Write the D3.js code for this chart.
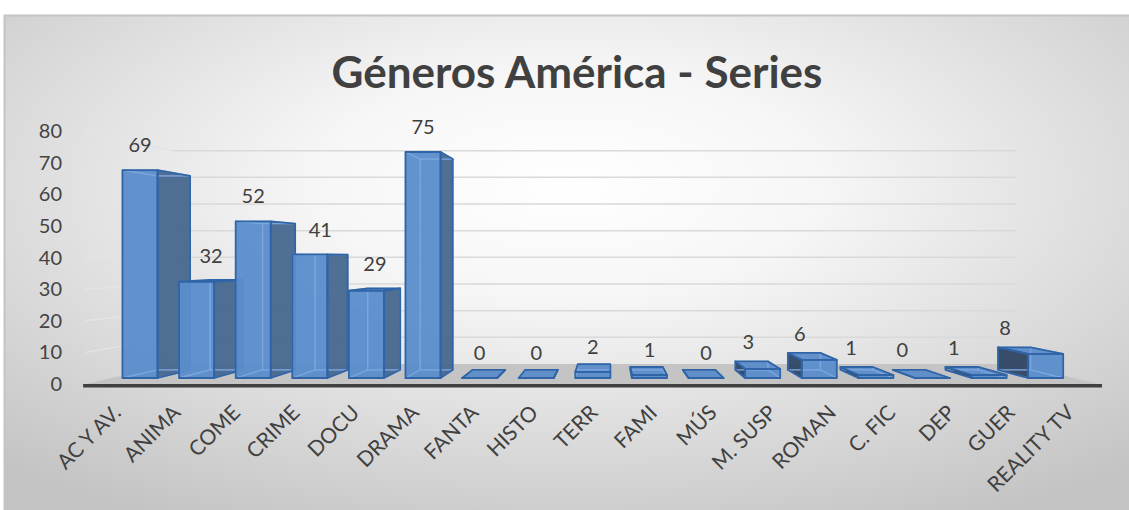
<!DOCTYPE html>
<html>
<head>
<meta charset="utf-8">
<script src="https://cdn.jsdelivr.net/npm/d3@7"></script>
<style>
	html, body { margin: 0; padding: 0; background: #fff; }
	svg { display: block; font-family: Lato, 'Open Sans', sans-serif; }
</style>
</head>
<body>
<svg id="chart"></svg>
<script>
var title = 'Géneros América - Series';
var categories = ['AC Y AV.', 'ANIMA', 'COME', 'CRIME', 'DOCU', 'DRAMA', 'FANTA', 'HISTO', 'TERR', 'FAMI', 'MÚS', 'M. SUSP', 'ROMAN', 'C. FIC', 'DEP', 'GUER', 'REALITY TV'];
var values = [69, 32, 52, 41, 29, 75, 0, 0, 2, 1, 0, 3, 6, 1, 0, 1, 8];
var yTicks = [0, 10, 20, 30, 40, 50, 60, 70, 80];

var width = 1129;
var height = 510;

var svg = d3.select('#chart').attr('width', width).attr('height', height);

// Background (Excel radial fill)
var defs = svg.append('defs');
var grad = defs
	.append('radialGradient')
	.attr('id', 'bg')
	.attr('cx', 0.5)
	.attr('cy', 0.33)
	.attr('r', 0.75);
grad.append('stop').attr('offset', 0).attr('stop-color', '#ffffff');
grad.append('stop').attr('offset', 0.3).attr('stop-color', '#f6f6f6');
grad.append('stop').attr('offset', 1).attr('stop-color', '#c3c3c3');

svg
	.append('rect')
	.attr('x', 4.5)
	.attr('y', 15.5)
	.attr('width', width)
	.attr('height', height)
	.attr('fill', 'url(#bg)')
	.attr('stroke', '#c4c4c4')
	.attr('stroke-width', 2);

// Scales: band in category units, then a front plane and a back plane
var n = categories.length;
var band = d3
	.scaleBand()
	.domain(categories)
	.range([0, n])
	.paddingInner(0.38)
	.paddingOuter(0.19);

var xFront = d3.scaleLinear().domain([0, n]).range([85.5, 1098.4]);
var xBack = d3.scaleLinear().domain([0, n]).range([172.9, 1016.9]);
var yFront = d3.scaleLinear().domain([0, 80]).range([384, 131]);
var yBack = d3.scaleLinear().domain([0, 80]).range([364, 150.7]);

function proj(u, d, v) {
	return [xFront(u) * (1 - d) + xBack(u) * d, yFront(v) * (1 - d) + yBack(v) * d];
}
function pts(arr) {
	return arr.map(p => p.join(',')).join(' ');
}

// Walls
var walls = svg.append('g');
yTicks.filter(t => t > 0).forEach(t => {
	walls
		.append('line')
		.attr('x1', proj(0, 0, t)[0])
		.attr('y1', proj(0, 0, t)[1])
		.attr('x2', proj(0, 1, t)[0])
		.attr('y2', proj(0, 1, t)[1])
		.attr('stroke', '#e4e4e4')
		.attr('stroke-width', 1.5);
	walls
		.append('line')
		.attr('x1', proj(0, 1, t)[0])
		.attr('y1', proj(0, 1, t)[1])
		.attr('x2', proj(n, 1, t)[0])
		.attr('y2', proj(n, 1, t)[1])
		.attr('stroke', '#d9d9d9')
		.attr('stroke-width', 1.5);
});

// Floor
svg
	.append('polygon')
	.attr('points', pts([proj(0, 0, 0), proj(n, 0, 0), proj(n, 1, 0), proj(0, 1, 0)]))
	.attr('fill', '#c4c4c4');
svg
	.append('polygon')
	.attr('points', pts([proj(-0.04, 0, 0), proj(n + 0.06, 0, 0), [proj(n + 0.06, 0, 0)[0], yFront(0) + 3.5], [proj(-0.04, 0, 0)[0], yFront(0) + 3.5]]))
	.attr('fill', '#404040');

// Y axis labels
svg
	.append('g')
	.selectAll('text')
	.data(yTicks)
	.enter()
	.append('text')
	.attr('x', 62)
	.attr('y', d => yFront(d))
	.attr('dy', '0.35em')
	.attr('text-anchor', 'end')
	.attr('font-size', 20)
	.attr('fill', '#444')
	.text(d => d);

// Bars
var d0 = 0.3;
var d1 = 0.71;
var uVP = (xBack(0) - xFront(0)) / ((xFront(n) - xFront(0)) / n - (xBack(n) - xBack(0)) / n);

var bars = categories.map((c, i) => {
	var uL = band(c);
	var uR = uL + band.bandwidth();
	var v = values[i];
	var P = (u, d, h) => proj(u, d, h);
	var faces = {
		front: [P(uL, d0, 0), P(uR, d0, 0), P(uR, d0, v), P(uL, d0, v)],
		back: [P(uL, d1, 0), P(uR, d1, 0), P(uR, d1, v), P(uL, d1, v)],
		left: [P(uL, d0, 0), P(uL, d1, 0), P(uL, d1, v), P(uL, d0, v)],
		right: [P(uR, d0, 0), P(uR, d1, 0), P(uR, d1, v), P(uR, d0, v)],
		top: [P(uL, d0, v), P(uR, d0, v), P(uR, d1, v), P(uL, d1, v)],
		bottom: [P(uL, d0, 0), P(uR, d0, 0), P(uR, d1, 0), P(uL, d1, 0)]
	};
	var vis = {
		front: true,
		back: false,
		right: P(uR, d1, 0)[0] > P(uR, d0, 0)[0],
		left: P(uL, d1, 0)[0] < P(uL, d0, 0)[0],
		top: P(uL, d1, v)[1] < P(uL, d0, v)[1],
		bottom: P(uL, d1, 0)[1] > P(uL, d0, 0)[1]
	};
	var leftWidth = P(uL, d0, 0)[0] - P(uL, d1, 0)[0];
	return { c: c, v: v, i: i, uL: uL, uR: uR, faces: faces, vis: vis, leftWidth: leftWidth };
});

var fills = { front: '#5b8dcb', right: '#46678f', left: '#2f4663', top: '#5c8cc9', bottom: '#5c8cc9', back: '#5c8cc9' };

var order = bars.slice().sort((a, b) => Math.abs(b.uL + 0.31 - uVP) - Math.abs(a.uL + 0.31 - uVP));
var gBars = svg.append('g');
order.forEach(b => {
	var g = gBars.append('g');
	var names = Object.keys(b.faces);
	// visible faces fill
	names.filter(k => b.vis[k]).forEach(k => {
		g.append('polygon')
			.attr('points', pts(b.faces[k]))
			.attr('fill', fills[k])
			.attr('fill-opacity', 0.95);
	});
	// hidden edges seen through the glass
	names.filter(k => !b.vis[k]).forEach(k => {
		g.append('polygon')
			.attr('points', pts(b.faces[k]))
			.attr('fill', 'none')
			.attr('stroke', '#7ea8df')
			.attr('stroke-opacity', 0.7)
			.attr('stroke-width', 1.3);
	});
	// visible outlines
	names.filter(k => b.vis[k]).forEach(k => {
		g.append('polygon')
			.attr('points', pts(b.faces[k]))
			.attr('fill', 'none')
			.attr('stroke', '#2f64a6')
			.attr('stroke-width', 1.8)
			.attr('stroke-linejoin', 'round');
	});
});

// Data labels: front of the top, pushed back when it would hit the previous bar
function labelPos(b) {
	var mid = (b.uL + b.uR) / 2;
	var d = d0;
	var off = 25;
	if (b.vis.left && b.leftWidth > 8) {
		d = 0.83;
		off = 17;
	} else if (b.i > 0 && b.vis.right) {
		var prev = bars[b.i - 1];
		var p = proj(mid, d0, b.v);
		var prevEdge = proj(prev.uR, d1, prev.v);
		if (prevEdge[1] < p[1] - off && p[0] - 12 < prevEdge[0] + 8) d = 0.5;
	}
	var q = proj(mid, d, b.v);
	return [q[0], q[1] - off];
}

svg
	.append('g')
	.selectAll('text')
	.data(bars)
	.enter()
	.append('text')
	.attr('x', b => labelPos(b)[0])
	.attr('y', b => labelPos(b)[1])
	.attr('dy', '0.35em')
	.attr('text-anchor', 'middle')
	.attr('font-size', 20)
	.attr('fill', '#404040')
	.text(b => b.v);

// Category labels
svg
	.append('g')
	.selectAll('text')
	.data(categories)
	.enter()
	.append('text')
	.attr('transform', c => `translate(${xFront(band(c) + band.bandwidth() / 2) + 7},414) rotate(-45)`)
	.attr('text-anchor', 'end')
	.attr('font-size', 21)
	.attr('fill', '#404040')
	.text(c => c);

// Title
svg
	.append('text')
	.attr('x', 577)
	.attr('y', 88)
	.attr('text-anchor', 'middle')
	.attr('font-size', 44)
	.attr('font-weight', 'bold')
	.attr('fill', '#404040')
	.text(title);
</script>
</body>
</html>
